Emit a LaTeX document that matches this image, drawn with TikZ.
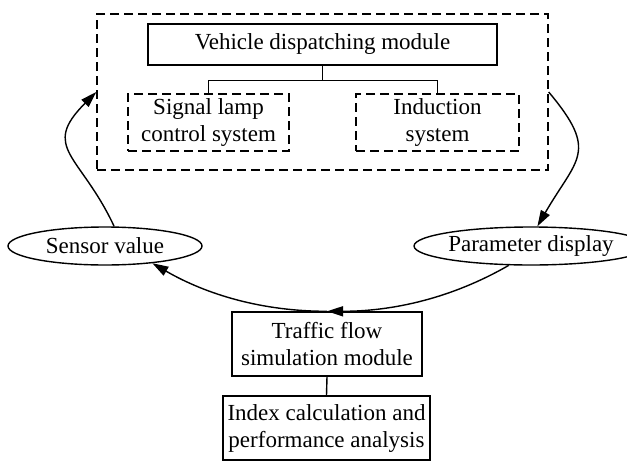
\documentclass[tikz,border=0pt]{standalone}
\usepackage{fontspec}
\setmainfont{Liberation Serif}
\usetikzlibrary{arrows.meta,positioning,shapes.geometric}
\tikzset{
  blk/.style={draw, line width=1.4pt, align=center, inner sep=0pt},
  dblk/.style={blk, dash pattern=on 9pt off 5pt},
  oval/.style={ellipse, draw, line width=1.4pt, inner sep=0pt},
  link/.style={line width=1.4pt},
  flow/.style={line width=1.4pt, -{Triangle[length=16pt,width=10pt]}}
}

\begin{document}
\begin{tikzpicture}[x=1pt, y=1pt, font=\fontsize{23}{27}\selectfont]
  \useasboundingbox (0,0) rectangle (627,-461);
  \node[dblk, minimum width=451, minimum height=156] (outer) at (322.5,-92) {};
  \node[blk, minimum width=349, minimum height=41] (vehicle) at (322.5,-44.5)
       {Vehicle dispatching module};
  \node[dblk, minimum width=161, minimum height=57] (signal) at (208.5,-122.5)
       {Signal lamp\\control system};
  \node[dblk, minimum width=163, minimum height=57] (induction) at (437.5,-122.5)
       {Induction\\system};
  \node[oval, minimum width=194, minimum height=38] (sensor) at (105,-246) {Sensor value};
  \node[oval, minimum width=188, minimum height=38] (param) at (531,-246) {Parameter display};
  \node[blk, minimum width=190, minimum height=64] (traffic) at (327,-344)
       {Traffic flow\\simulation module};
  \node[blk, minimum width=207, minimum height=64] (index) at (326.5,-428)
       {Index calculation and\\performance analysis};

  \draw[link] (vehicle.south) -- ++(0,-15) coordinate (split);
  \draw[link] (signal.north) |- (split) -| (induction.north);
  \draw[link] (traffic.south) -- (index.north);

  \draw[flow] (sensor.65) to[out=115, in=225, looseness=1.5] (outer.west);
  \draw[flow] (outer.east) to[out=-50, in=60, looseness=1.5] (param.72);
  \draw[flow] (param.221) to[out=210, in=0, looseness=0.9] (traffic.north);
  \draw[flow] (traffic.north) to[out=180, in=-30, looseness=0.9] (sensor.-20);
\end{tikzpicture}
\end{document}
